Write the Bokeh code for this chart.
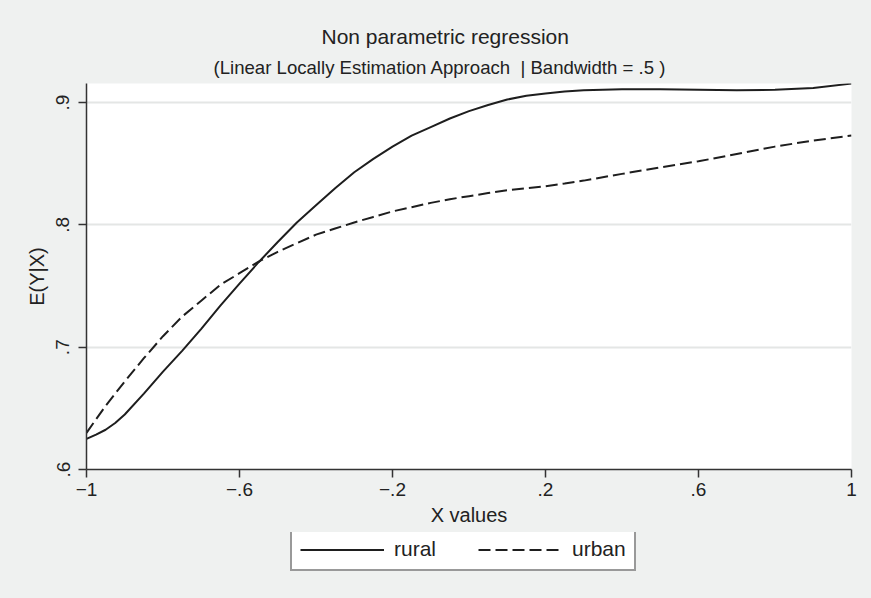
from bokeh.plotting import figure
from bokeh.layouts import column
from bokeh.models import Range1d, FixedTicker, Legend, LegendItem, Title
from bokeh.embed import file_html
from bokeh.resources import INLINE

# Local linear regression fits of E(Y|X) for the two groups
x_values = [-1.00, -0.975, -0.95, -0.925, -0.90, -0.85, -0.80, -0.75, -0.70, -0.65, -0.60, -0.55,
            -0.50, -0.45, -0.40, -0.35, -0.30, -0.25, -0.20, -0.15, -0.10, -0.05,
            0.00, 0.05, 0.10, 0.15, 0.20, 0.25, 0.30, 0.40, 0.50, 0.60, 0.70, 0.80, 0.90, 1.00]
rural = [0.625, 0.6285, 0.6325, 0.638, 0.645, 0.662, 0.680, 0.697, 0.715, 0.734, 0.752, 0.7695,
         0.786, 0.802, 0.816, 0.830, 0.843, 0.854, 0.864, 0.873, 0.880, 0.887,
         0.893, 0.898, 0.9025, 0.9055, 0.9075, 0.909, 0.910, 0.911, 0.911, 0.9105, 0.910, 0.9105, 0.912, 0.9155]
urban = [0.630, 0.641, 0.652, 0.662, 0.672, 0.691, 0.709, 0.725, 0.738, 0.751, 0.7605, 0.770,
         0.778, 0.785, 0.792, 0.797, 0.802, 0.8065, 0.811, 0.8145, 0.818, 0.821,
         0.8235, 0.826, 0.8283, 0.830, 0.8316, 0.8338, 0.8362, 0.8417, 0.847, 0.852, 0.858, 0.864, 0.869, 0.873]

x_ticks = [-1, -0.6, -0.2, 0.2, 0.6, 1]
x_tick_labels = ["\u22121", "\u2212.6", "\u2212.2", ".2", ".6", "1"]
y_ticks = [0.6, 0.7, 0.8, 0.9]
y_tick_labels = [".6", ".7", ".8", ".9"]

FONT = "Liberation Sans"
INK = "#1e1e1e"
AXIS = "#333333"
TEXT = "#222222"
PAPER = "#eff1f0"

p = figure(width=871, height=532, title=None,
           x_range=Range1d(-1, 1), y_range=Range1d(0.6, 0.9156),
           output_backend="svg", toolbar_location=None,
           min_border_left=86, min_border_right=20,
           min_border_top=83, min_border_bottom=63)

p.background_fill_color = "white"
p.border_fill_color = PAPER
p.outline_line_color = None

p.line(x_values, rural, line_color=INK, line_width=2)
p.line(x_values, urban, line_color=INK, line_width=2, line_dash="12 5")

# titles: subtitle first so it sits next to the plot
p.add_layout(Title(text="(Linear Locally Estimation Approach \u00a0| Bandwidth = .5 )",
                   align="left", offset=127, text_font=FONT, text_font_size="18.6px",
                   text_font_style="normal", text_color=TEXT, standoff=11), "above")
p.add_layout(Title(text="Non parametric regression",
                   align="left", offset=235, text_font=FONT, text_font_size="21px",
                   text_font_style="normal", text_color=TEXT, standoff=3), "above")

# axes
p.xaxis.ticker = FixedTicker(ticks=x_ticks)
p.xaxis.major_label_overrides = dict(zip(x_ticks, x_tick_labels))
p.yaxis.ticker = FixedTicker(ticks=y_ticks)
p.yaxis.major_label_overrides = dict(zip(y_ticks, y_tick_labels))
p.yaxis.major_label_orientation = "vertical"

p.xaxis.axis_label = "X values"
p.yaxis.axis_label = "E(Y|X)"

for ax in (p.xaxis, p.yaxis):
    ax.axis_line_color = AXIS
    ax.axis_line_width = 1.5
    ax.major_tick_line_color = AXIS
    ax.major_tick_line_width = 1.5
    ax.major_tick_out = 8
    ax.major_tick_in = 0
    ax.minor_tick_line_color = None
    ax.major_label_text_font = FONT
    ax.major_label_text_font_size = "19px"
    ax.major_label_text_color = TEXT
    ax.axis_label_text_font = FONT
    ax.axis_label_text_font_size = "20px"
    ax.axis_label_text_font_style = "normal"
    ax.axis_label_text_color = TEXT
p.xaxis.major_label_standoff = 5
p.xaxis.axis_label_standoff = 5
p.yaxis.major_label_standoff = 9
p.yaxis.axis_label_standoff = 6

p.xgrid.grid_line_color = None
p.ygrid.ticker = FixedTicker(ticks=[0.7, 0.8, 0.9])
p.ygrid.grid_line_color = "#e4e6e5"
p.ygrid.grid_line_width = 2

# key strip under the chart: same two line styles, drawn outside its visible range;
# it is transparent and sits on the layout's paper-coloured background
key = figure(width=871, height=66, title=None,
             x_range=Range1d(10, 11), y_range=Range1d(0, 1),
             output_backend="svg", toolbar_location=None,
             x_axis_location=None, y_axis_location=None, min_border=0)
key.background_fill_alpha = 0
key.border_fill_alpha = 0
key.outline_line_color = None
key.grid.visible = False
k_rural = key.line(x_values, rural, line_color=INK, line_width=2)
k_urban = key.line(x_values, urban, line_color=INK, line_width=2, line_dash="12 5")

legend = Legend(items=[LegendItem(label="rural", renderers=[k_rural]),
                       LegendItem(label="urban", renderers=[k_urban])],
                orientation="horizontal", location=(204, 27),
                glyph_width=84, glyph_height=21, label_standoff=10, spacing=42,
                padding=8, margin=0, label_height=21,
                border_line_color="#333333", border_line_width=2,
                background_fill_color="white", background_fill_alpha=1,
                label_text_font=FONT, label_text_font_size="21px",
                label_text_color=TEXT)
key.add_layout(legend, "center")

layout = column(p, key, spacing=0, styles={"background-color": PAPER})
open("out.html", "w").write(file_html(layout, INLINE))
